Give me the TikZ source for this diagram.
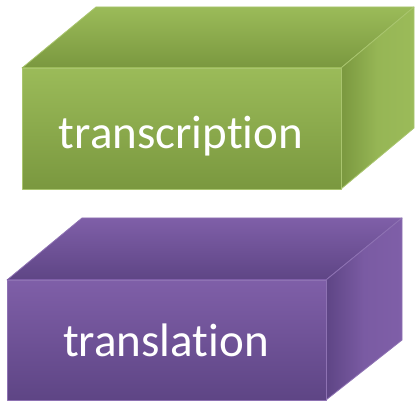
\documentclass[tikz,border=0pt]{standalone}
\usepackage{fontspec}
\setmainfont[Ligatures=NoCommon]{Carlito}
\definecolor{gLight}{HTML}{9BBB59}
\definecolor{gDark}{HTML}{7A983F}
\definecolor{gEdge}{HTML}{A9C56E}
\definecolor{pLight}{HTML}{7F5FA8}
\definecolor{pDark}{HTML}{5E4585}
\definecolor{pEdge}{HTML}{8E72B3}
\tikzset{
  face/.style={line width=0.8pt, line join=round},
  lbl/.style={text=white, font=\fontsize{47}{52}\selectfont, inner sep=0pt},
}
\begin{document}
\begin{tikzpicture}[x=1pt,y=-1pt]
\useasboundingbox (0,0) rectangle (416,401);
% ---- top box (green) ----
\coordinate (a1) at (22,68);
\coordinate (a2) at (341,68);
\coordinate (a3) at (341,189);
\coordinate (a4) at (22,189);
\coordinate (a5) at (96,7);
\coordinate (a6) at (414,7);
\coordinate (a7) at (414,128);
\shade[face, draw=gEdge, top color=gLight, bottom color=gDark] (a1) -- (a5) -- (a6) -- (a2) -- cycle;
\shade[face, draw=gEdge, left color=gDark, right color=gLight, middle color=gLight!85!gDark] (a2) -- (a6) -- (a7) -- (a3) -- cycle;
\shade[face, draw=gEdge, top color=gLight, bottom color=gDark] (a1) -- (a2) -- (a3) -- (a4) -- cycle;
\node[lbl] (t1) at (181,136) {transcription};
% ---- bottom box (purple) ----
\coordinate (b1) at (7,280);
\coordinate (b2) at (326,280);
\coordinate (b3) at (326,400);
\coordinate (b4) at (7,400);
\coordinate (b5) at (82,218);
\coordinate (b6) at (402,218);
\coordinate (b7) at (402,340);
\shade[face, draw=pEdge, top color=pLight, bottom color=pDark] (b1) -- (b5) -- (b6) -- (b2) -- cycle;
\shade[face, draw=pEdge, left color=pDark, right color=pLight, middle color=pLight!85!pDark] (b2) -- (b6) -- (b7) -- (b3) -- cycle;
\shade[face, draw=pEdge, top color=pLight, bottom color=pDark] (b1) -- (b2) -- (b3) -- (b4) -- cycle;
\node[lbl] (t2) at (166,340) {translation};
\end{tikzpicture}
\end{document}
